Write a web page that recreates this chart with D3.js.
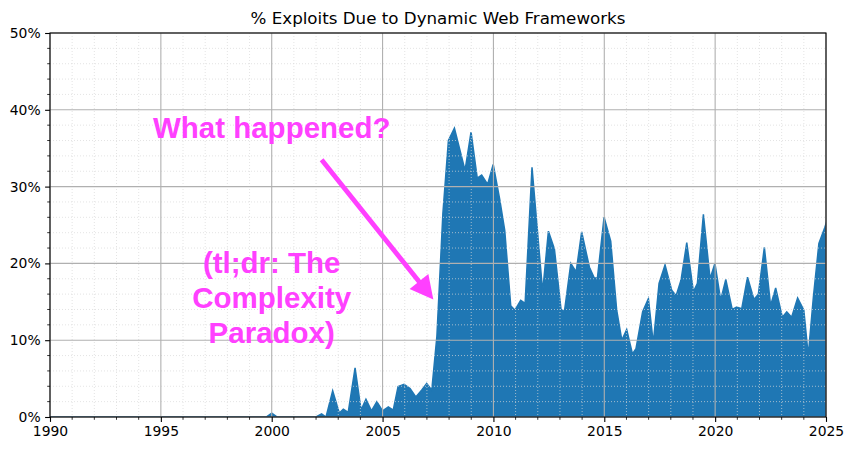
<!DOCTYPE html>
<html>
<head>
<meta charset="utf-8">
<script src="https://cdn.jsdelivr.net/npm/d3@7.9.0/dist/d3.min.js"></script>
<style>
  html, body { margin: 0; padding: 0; background: #fff; }
  svg text { font-family: "DejaVu Sans", sans-serif; }
  .note { font-family: "Liberation Sans", Arial, sans-serif; font-weight: bold; fill: #ff40ff; }
</style>
</head>
<body>
<svg width="852" height="451"></svg>
<script>
// ---- data (decimal year, % of exploits) ----
const years = [
  1990, 1999.75, 2000, 2000.25, 2002, 2002.25, 2002.45, 2002.75, 2003.05, 2003.23,
  2003.45, 2003.76, 2004.03, 2004.25, 2004.5, 2004.74, 2005, 2005.26, 2005.48, 2005.7,
  2005.97, 2006.24, 2006.5, 2006.76, 2006.99, 2007.22, 2007.45, 2007.72, 2007.97, 2008.24,
  2008.72, 2008.99, 2009.27, 2009.47, 2009.74, 2009.99, 2010.28, 2010.51, 2010.78, 2010.97,
  2011.23, 2011.43, 2011.74, 2012.22, 2012.48, 2012.75, 2013.05, 2013.2, 2013.49, 2013.73,
  2013.98, 2014.33, 2014.55, 2014.69, 2014.99, 2015.29, 2015.56, 2015.79, 2016.01, 2016.27,
  2016.43, 2016.73, 2016.99, 2017.21, 2017.47, 2017.74, 2018.04, 2018.24, 2018.46, 2018.72,
  2019.02, 2019.2, 2019.47, 2019.77, 2019.99, 2020.25, 2020.48, 2020.77, 2020.97, 2021.2,
  2021.46, 2021.75, 2021.95, 2022.22, 2022.5, 2022.73, 2023.03, 2023.23, 2023.45, 2023.72,
  2024, 2024.2, 2024.43, 2024.68, 2024.95, 2025.2
];
const pct = [
  0, 0, 0.5, 0, 0, 0.4, 0, 3.4, 0.5, 1.0,
  0.6, 6.4, 0.9, 2.3, 0.8, 2.0, 0.8, 1.3, 0.9, 3.95,
  4.25, 3.7, 2.6, 3.5, 4.35, 3.5, 10.5, 26.5, 36.0, 37.6,
  32.1, 37.1, 31.1, 31.5, 30.3, 32.9, 28.4, 24.3, 14.5, 13.9,
  15.2, 14.8, 32.5, 16.3, 24.2, 21.9, 14.0, 13.7, 20.0, 18.9,
  24.1, 19.5, 18.1, 18.1, 26.0, 22.9, 13.9, 10.0, 11.4, 8.2,
  8.9, 13.7, 15.4, 9.6, 17.4, 19.8, 16.5, 15.8, 17.8, 22.7,
  16.3, 17.4, 26.4, 18.0, 20.0, 15.2, 17.9, 14.0, 14.3, 14.1,
  18.2, 15.3, 16.0, 22.1, 14.5, 16.8, 13.0, 13.7, 13.0, 15.5,
  13.9, 8.0, 15.6, 22.6, 24.7, 27
];
const xTicks = [1990, 1995, 2000, 2005, 2010, 2015, 2020, 2025];
const yTicks = [0, 10, 20, 30, 40, 50];
const title = "% Exploits Due to Dynamic Web Frameworks";
const noteTop = "What happened?";
const noteLines = ["(tl;dr: The", "Complexity", "Paradox)"];

const data = years.map((yr, i) => ({ year: yr, value: pct[i] }));

// ---- layout (matplotlib-ish) ----
const mLeft = 50, mTop = 33, mRight = 826, mBottom = 417;
const svg = d3.select("svg");

const x = d3.scaleLinear().domain([1990, 2025]).range([mLeft, mRight]);
const y = d3.scaleLinear().domain([0, 50]).range([mBottom, mTop]);

svg.append("defs").append("clipPath").attr("id", "plot")
  .append("rect").attr("x", mLeft).attr("y", mTop).attr("width", mRight - mLeft).attr("height", mBottom - mTop);

// filled area (drawn below the grid, like fill_between at zorder 1)
const area = d3.area().x((d) => x(d.year)).y0(y(0)).y1((d) => y(d.value));
const line = d3.line().x((d) => x(d.year)).y((d) => y(d.value));
const plot = svg.append("g").attr("clip-path", "url(#plot)");
plot.append("path").datum(data).attr("d", area).attr("fill", "#1f77b4");

// minor + major grid on top of the fill
const minorX = d3.range(1990, 2026, 1).filter((v) => v % 5 !== 0);
const minorY = d3.range(0, 51, 2).filter((v) => v % 10 !== 0);
const grid = svg.append("g");
grid.selectAll(".mx").data(minorX).join("line")
  .attr("x1", (d) => x(d)).attr("x2", (d) => x(d)).attr("y1", mTop).attr("y2", mBottom)
  .attr("stroke", "#d8d8d8").attr("stroke-width", 0.7).attr("stroke-dasharray", "1,2");
grid.selectAll(".my").data(minorY).join("line")
  .attr("y1", (d) => y(d)).attr("y2", (d) => y(d)).attr("x1", mLeft).attr("x2", mRight)
  .attr("stroke", "#d8d8d8").attr("stroke-width", 0.7).attr("stroke-dasharray", "1,2");
grid.selectAll(".Mx").data(xTicks).join("line")
  .attr("x1", (d) => x(d)).attr("x2", (d) => x(d)).attr("y1", mTop).attr("y2", mBottom)
  .attr("stroke", "#b0b0b0").attr("stroke-width", 1.1);
grid.selectAll(".My").data(yTicks).join("line")
  .attr("y1", (d) => y(d)).attr("y2", (d) => y(d)).attr("x1", mLeft).attr("x2", mRight)
  .attr("stroke", "#b0b0b0").attr("stroke-width", 1.1);

// edge line of the series
plot.append("path").datum(data).attr("d", line)
  .attr("fill", "none").attr("stroke", "#1f77b4").attr("stroke-width", 1.5);

// ---- axes ----
const xAxis = svg.append("g").attr("transform", `translate(0,${mBottom})`)
  .call(d3.axisBottom(x).tickValues(xTicks).tickFormat(d3.format("d")).tickSizeInner(4.9).tickSizeOuter(0).tickPadding(4.5));
xAxis.append("g").selectAll("line").data(minorX).join("line")
  .attr("x1", (d) => x(d)).attr("x2", (d) => x(d)).attr("y2", 2.8).attr("stroke", "#000").attr("stroke-width", 0.8);

const yAxis = svg.append("g").attr("transform", `translate(${mLeft},0)`)
  .call(d3.axisLeft(y).tickValues(yTicks).tickFormat((d) => d + "%").tickSizeInner(4.9).tickSizeOuter(0).tickPadding(4.5));
yAxis.append("g").selectAll("line").data(minorY).join("line")
  .attr("y1", (d) => y(d)).attr("y2", (d) => y(d)).attr("x2", -2.8).attr("stroke", "#000").attr("stroke-width", 0.8);

svg.selectAll(".domain").remove();
svg.selectAll(".tick line").attr("stroke", "#000").attr("stroke-width", 1.1);
svg.selectAll(".tick text").attr("font-size", 13.9).attr("fill", "#000")
  .attr("font-family", "DejaVu Sans, sans-serif");

// frame
svg.append("rect").attr("x", mLeft).attr("y", mTop).attr("width", mRight - mLeft).attr("height", mBottom - mTop)
  .attr("fill", "none").attr("stroke", "#000").attr("stroke-width", 1.1);

svg.append("text").attr("x", (mLeft + mRight) / 2).attr("y", 24).attr("text-anchor", "middle")
  .attr("font-size", 16.7).attr("fill", "#000").text(title);

// ---- annotation: arrow + text ----
const tail = [x(2002.25), y(33.5)];
const tip = [x(2007.29), y(15.3)];
const dx = tip[0] - tail[0], dy = tip[1] - tail[1];
const len = Math.hypot(dx, dy);
const ux = dx / len, uy = dy / len, nx = -uy, ny = ux;
const headLen = 23, headW = 12, shaftW = 2.4;
const bx = tip[0] - ux * headLen, by = tip[1] - uy * headLen;
const arrow = d3.path();
arrow.moveTo(tail[0] + nx * shaftW, tail[1] + ny * shaftW);
arrow.lineTo(bx + nx * shaftW, by + ny * shaftW);
arrow.lineTo(bx + nx * headW, by + ny * headW);
arrow.lineTo(tip[0], tip[1]);
arrow.lineTo(bx - nx * headW, by - ny * headW);
arrow.lineTo(bx - nx * shaftW, by - ny * shaftW);
arrow.lineTo(tail[0] - nx * shaftW, tail[1] - ny * shaftW);
arrow.closePath();
svg.append("path").attr("d", arrow.toString()).attr("fill", "#ff40ff");

svg.append("text").attr("class", "note").attr("x", x(2000)).attr("y", 138)
  .attr("text-anchor", "middle").attr("font-size", 29.5).text(noteTop);
svg.append("g").selectAll("text").data(noteLines).join("text")
  .attr("class", "note").attr("x", x(2000)).attr("y", (d, i) => 273 + i * 35)
  .attr("text-anchor", "middle").attr("font-size", 29.5).text((d) => d);
</script>
</body>
</html>
